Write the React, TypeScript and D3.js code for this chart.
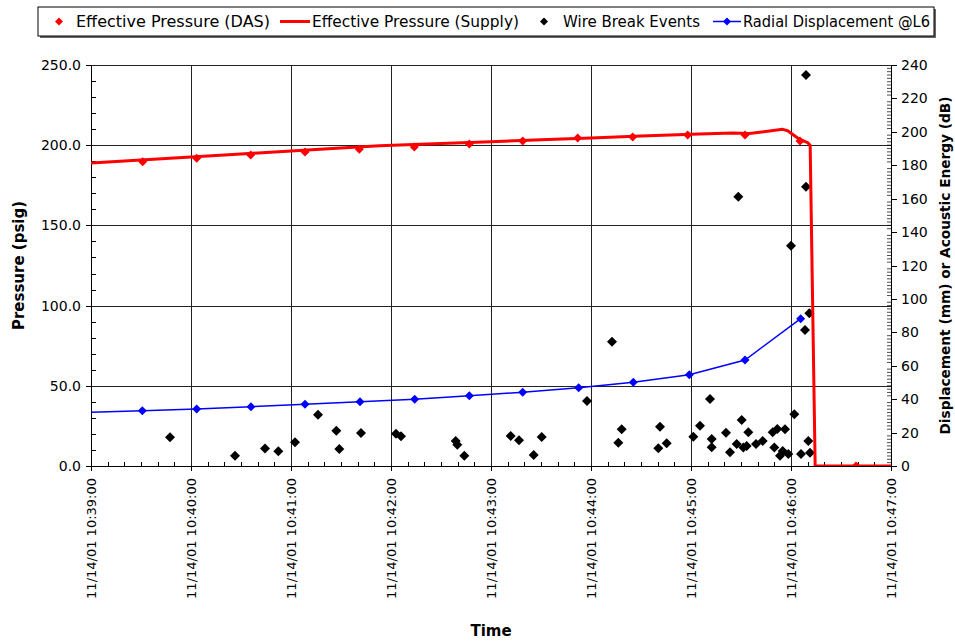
import React from "react";
import * as d3 from "d3";

// time in seconds after 11/14/01 10:39:00
const timeTicks = [0, 60, 120, 180, 240, 300, 360, 420, 480];
const timeLabels = [
  "11/14/01 10:39:00", "11/14/01 10:40:00", "11/14/01 10:41:00", "11/14/01 10:42:00",
  "11/14/01 10:43:00", "11/14/01 10:44:00", "11/14/01 10:45:00", "11/14/01 10:46:00",
  "11/14/01 10:47:00",
];
const leftTicks = [0, 50, 100, 150, 200, 250];
const rightTicks = [0, 20, 40, 60, 80, 100, 120, 140, 160, 180, 200, 220, 240];

// Effective Pressure (Supply) - line
const supplyT = [0, 30, 60, 90, 120, 150, 173, 210, 240, 270, 300, 330, 365, 385, 395, 415, 418, 425, 430, 431.5, 434.5, 480];
const supplyP = [188.9, 190.8, 192.6, 194.5, 196.4, 198.3, 199.7, 201.1, 202.2, 203.4, 204.5, 205.7, 207.0, 207.6, 207.3, 209.9, 209.0, 203.7, 201.6, 200, 0, 0];

// Effective Pressure (DAS) - red diamonds
const dasT = [31, 63.4, 95.8, 128.4, 161, 194, 227, 259, 292, 325, 358, 392.4, 425.4, 459];
const dasP = [189.7, 191.8, 193.9, 195.8, 197.4, 198.9, 200.7, 202.6, 204.5, 205.1, 206.4, 206.4, 202.6, 0];

// Radial Displacement @L6 - blue line with diamonds (right axis)
const dispT = [-3, 30.8, 63.4, 96, 128.4, 161.4, 194.2, 227, 259, 292.6, 325.4, 359, 392.4, 425.8];
const dispV = [32.0, 33.1, 34.1, 35.5, 36.9, 38.5, 39.9, 42.1, 44.1, 46.9, 50.1, 54.6, 63.4, 88.2];

// Wire Break Events - black diamonds (right axis)
const wireT = [47.4, 86.4, 104.4, 112.4, 122.4, 136.2, 147.2, 149, 162, 183, 186, 218.8, 219.8, 224,
  251.8, 256.8, 265.6, 270.4, 297.6, 312.6, 316.4, 318.4, 340.4, 341.4, 345.4, 361.4, 365.4, 371.4,
  372.4, 372.4, 381, 383.4, 387.4, 388.4, 390.4, 391.4, 393.4, 394.4, 399, 403, 409, 410, 411.8,
  413.4, 415, 416.4, 418.4, 420, 422, 426, 428.4, 429, 429, 430.4, 431, 431.4];
const wireV = [17.2, 6.2, 10.4, 8.8, 14.2, 30.7, 21.1, 10.2, 19.7, 19.3, 17.8, 15, 12.7, 6.2,
  18, 15.4, 6.6, 17.4, 38.9, 74.4, 13.9, 22, 10.6, 23.5, 13.6, 17.5, 24.1, 40.1,
  16.2, 11.2, 19.9, 8.2, 13.2, 161.2, 27.5, 11, 12, 20.2, 13.2, 15, 20.2, 11, 22.1,
  6.2, 9, 22, 7.2, 131.8, 30.9, 7.2, 81.4, 234, 167.2, 15, 91.4, 8];

const legendItems = [
  { label: "Effective Pressure (DAS)", kind: "redDiamond" },
  { label: "Effective Pressure (Supply)", kind: "redLine" },
  { label: "Wire Break Events", kind: "blackDiamond" },
  { label: "Radial Displacement @L6", kind: "blueLine" },
];

const W = 955, H = 643;
const L = 91, R = 891, T = 65, B = 466;
const FONT = "'DejaVu Sans', sans-serif";

function diamond(cx: number, cy: number, r: number) {
  return `M${cx},${cy - r}L${cx + r},${cy}L${cx},${cy + r}L${cx - r},${cy}Z`;
}

export default function App() {
  const x = d3.scaleLinear().domain([0, 480]).range([L, R]);
  const yL = d3.scaleLinear().domain([0, 250]).range([B, T]);
  const yR = d3.scaleLinear().domain([0, 240]).range([B, T]);

  const supplyLine = d3.line<number>().x((_, i) => x(supplyT[i])).y((d) => yL(d))(supplyP) || "";
  const dispLine = d3.line<number>().x((_, i) => x(dispT[i])).y((d) => yR(d))(dispV) || "";

  const minorX = d3.range(0, 481, 10).filter((t) => t % 60 !== 0);
  const minorL = d3.range(0, 251, 10).filter((v) => v % 50 !== 0);
  const minorR = d3.range(0, 241, 2).filter((v) => v % 20 !== 0);

  const legendX = [59, 296, 544, 727];
  const legendTextX = [76, 312, 563, 743];
  const legendTextW = [194, 207, 137, 187];

  return (
    <svg width={W} height={H} style={{ position: "absolute", left: 0, top: 0, background: "#fff" }}>
      <defs>
        <clipPath id="plot">
          <rect x={L} y={T - 10} width={R - L} height={B - T + 10} />
        </clipPath>
      </defs>
      <rect x={0} y={0} width={W} height={H} fill="#fff" />
      {/* legend */}
      <rect x={40} y={9} width={896} height={29} fill="#666" />
      <rect x={38} y={7} width={896} height={29} fill="#fff" stroke="#000" strokeWidth={1} />
      {legendItems.map((it, i) => (
        <g key={it.label}>
          {it.kind === "redDiamond" && <path d={diamond(legendX[i], 21.5, 4)} fill="#f00" />}
          {it.kind === "blackDiamond" && <path d={diamond(legendX[i], 21.5, 4)} fill="#000" />}
          {it.kind === "redLine" && (
            <line x1={legendX[i] - 16} x2={legendX[i] + 14} y1={21.5} y2={21.5} stroke="#f00" strokeWidth={3} />
          )}
          {it.kind === "blueLine" && (
            <g>
              <line x1={legendX[i] - 14} x2={legendX[i] + 14} y1={21.5} y2={21.5} stroke="#00f" strokeWidth={1.5} />
              <path d={diamond(legendX[i], 21.5, 4)} fill="#00f" />
            </g>
          )}
          <text x={legendTextX[i]} y={27} fontFamily={FONT} fontSize={15} fill="#000"
            textLength={legendTextW[i]} lengthAdjust="spacingAndGlyphs">{it.label}</text>
        </g>
      ))}

      {/* grid */}
      {leftTicks.map((v) => (
        <line key={"gl" + v} x1={L} x2={R} y1={Math.round(yL(v)) + 0.5} y2={Math.round(yL(v)) + 0.5} stroke="#222" strokeWidth={1} />
      ))}
      {timeTicks.map((t) => (
        <line key={"gx" + t} x1={Math.round(x(t)) + 0.5} x2={Math.round(x(t)) + 0.5} y1={T} y2={B} stroke="#222" strokeWidth={1} />
      ))}

      {/* axes */}
      <line x1={L + 0.5} x2={L + 0.5} y1={T} y2={B + 5} stroke="#000" />
      <line x1={R + 0.5} x2={R + 0.5} y1={T} y2={B + 5} stroke="#000" />
      <line x1={L - 5} x2={R + 5} y1={B + 0.5} y2={B + 0.5} stroke="#000" />
      {leftTicks.map((v) => (
        <g key={"lt" + v}>
          <line x1={L - 5} x2={L} y1={Math.round(yL(v)) + 0.5} y2={Math.round(yL(v)) + 0.5} stroke="#000" />
          <text x={L - 10} y={yL(v) + 5} textAnchor="end" fontFamily={FONT} fontSize={14} fill="#000">{v.toFixed(1)}</text>
        </g>
      ))}
      {minorL.map((v) => (
        <line key={"lm" + v} x1={L} x2={L + 5} y1={Math.round(yL(v)) + 0.5} y2={Math.round(yL(v)) + 0.5} stroke="#000" />
      ))}
      {rightTicks.map((v) => (
        <g key={"rt" + v}>
          <line x1={R} x2={R + 6} y1={Math.round(yR(v)) + 0.5} y2={Math.round(yR(v)) + 0.5} stroke="#000" />
          <text x={R + 10} y={yR(v) + 5} textAnchor="start" fontFamily={FONT} fontSize={14} fill="#000">{v}</text>
        </g>
      ))}
      {minorR.map((v) => (
        <line key={"rm" + v} x1={R - 4} x2={R} y1={yR(v)} y2={yR(v)} stroke="#000" strokeWidth={0.7} />
      ))}
      {timeTicks.map((t, i) => (
        <g key={"xt" + t}>
          <line x1={Math.round(x(t)) + 0.5} x2={Math.round(x(t)) + 0.5} y1={B} y2={B + 5} stroke="#000" />
          <text transform={`translate(${x(t) + 5},${B + 12}) rotate(-90)`} textAnchor="end"
            fontFamily={FONT} fontSize={13} fill="#000">{timeLabels[i]}</text>
        </g>
      ))}
      {minorX.map((t) => (
        <line key={"xm" + t} x1={Math.round(x(t)) + 0.5} x2={Math.round(x(t)) + 0.5} y1={B - 4} y2={B} stroke="#000" />
      ))}

      {/* data */}
      <g clipPath="url(#plot)">
        <path d={dispLine} fill="none" stroke="#00f" strokeWidth={1.5} />
        {dispV.map((v, i) => (
          <path key={"dv" + i} d={diamond(x(dispT[i]), yR(v), 4.5)} fill="#00f" />
        ))}
        {wireV.map((v, i) => (
          <path key={"wv" + i} d={diamond(x(wireT[i]), yR(v), 5)} fill="#000" />
        ))}
        <path d={supplyLine} fill="none" stroke="#f00" strokeWidth={3} strokeLinejoin="round" />
        {dasP.map((p, i) => (
          <path key={"dp" + i} d={diamond(x(dasT[i]), yL(p), 4.5)} fill="#f00" />
        ))}
      </g>

      {/* axis titles */}
      <text transform={`translate(24,${(T + B) / 2}) rotate(-90)`} textAnchor="middle" fontFamily={FONT}
        fontWeight="bold" fontSize={15} fill="#000">Pressure (psig)</text>
      <text transform={`translate(950,${(T + B) / 2}) rotate(-90)`} textAnchor="middle" fontFamily={FONT}
        fontWeight="bold" fontSize={14} fill="#000" textLength={338} lengthAdjust="spacingAndGlyphs">Displacement (mm) or Acoustic Energy (dB)</text>
      <text x={491} y={636} textAnchor="middle" fontFamily={FONT} fontWeight="bold" fontSize={15} fill="#000">Time</text>
    </svg>
  );
}
